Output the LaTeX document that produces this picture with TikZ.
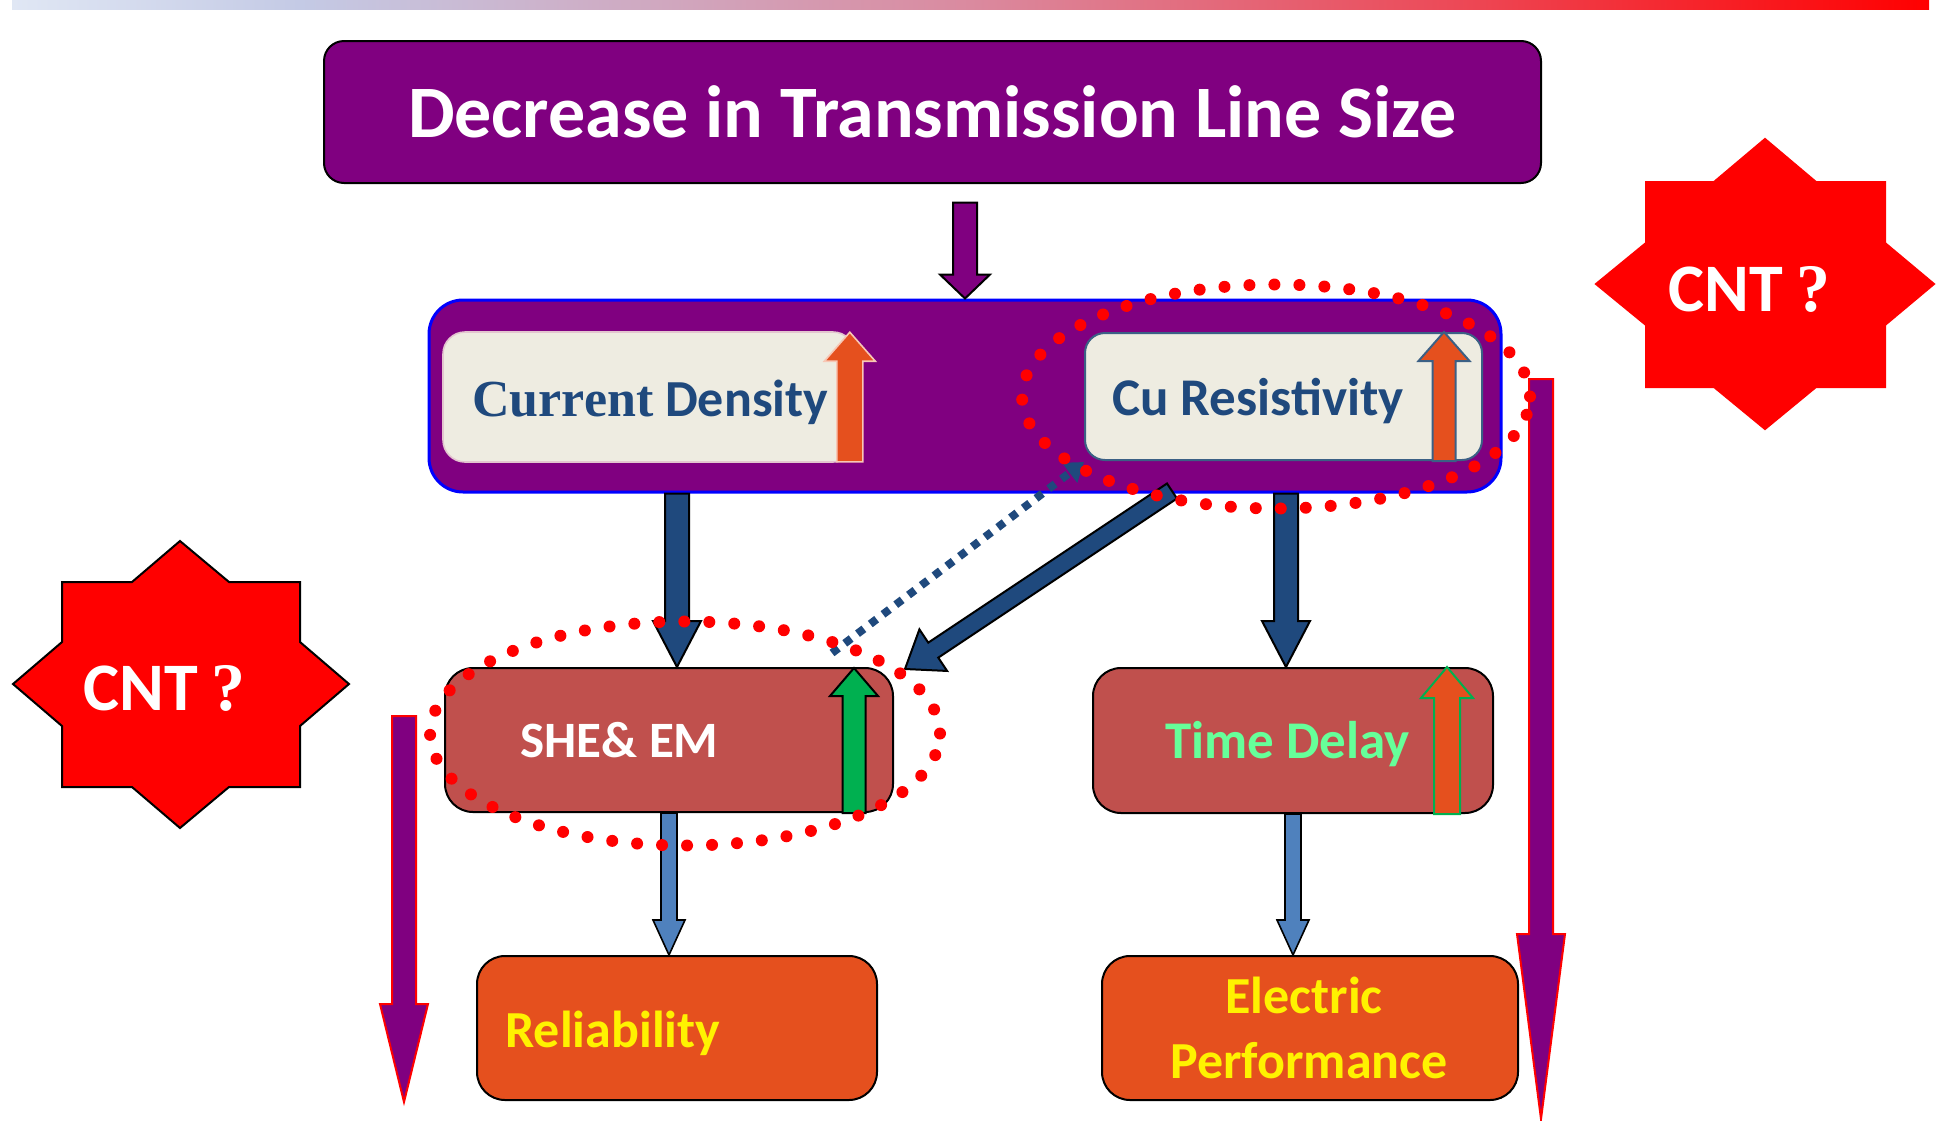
\documentclass[tikz,border=0pt]{standalone}
\usepackage{fontspec}
\setmainfont{Carlito}
\newfontfamily\serifb{Liberation Serif}
\usetikzlibrary{calc,arrows.meta}
\definecolor{pp}{HTML}{800080}
\definecolor{beige}{HTML}{EEECE1}
\definecolor{dblue}{HTML}{1F497D}
\definecolor{orng}{HTML}{E5501E}
\definecolor{brick}{HTML}{C0504D}
\definecolor{grn}{HTML}{00B050}
\definecolor{lblue}{HTML}{4F81BD}
\definecolor{tgreen}{HTML}{66FF99}
\definecolor{slate}{HTML}{3B6085}
\definecolor{pinkline}{HTML}{E3C5CF}
\definecolor{lightor}{HTML}{F7C7B5}
\definecolor{barA}{HTML}{E0E7F4}
\definecolor{barB}{HTML}{C4CAE5}
\definecolor{barC}{HTML}{DA8A9F}
\definecolor{barD}{HTML}{EC4A58}
\pgfdeclarehorizontalshading{barshade}{100bp}{color(0bp)=(barA); color(25bp)=(barA); color(32.5bp)=(barB); color(50bp)=(barC); color(62.5bp)=(barD); color(75bp)=(red); color(100bp)=(red)}
\newcommand{\blkarr}[6]{%
  \coordinate (ba-s) at (#2);
  \coordinate (ba-t) at (#3);
  \coordinate (ba-h) at ($(ba-t)!#6!(ba-s)$);
  \path[#1] ($(ba-s)!#4!-90:(ba-t)$) -- ($(ba-h)!#4!-90:(ba-t)$) -- ($(ba-h)!#5!-90:(ba-t)$) -- (ba-t) -- ($(ba-h)!#5!90:(ba-t)$) -- ($(ba-h)!#4!90:(ba-t)$) -- ($(ba-s)!#4!90:(ba-t)$) -- cycle;
}
\tikzset{
  rbox/.style={inner sep=0pt, line width=1pt},
  txt/.style={inner sep=0pt, anchor=base west},
  parr/.style={fill=pp, draw=black, line width=1pt},
  darr/.style={fill=dblue, draw=black, line width=1pt},
  larr/.style={fill=lblue, draw=black, line width=0.8pt},
  sarr/.style={fill=pp, draw=red, line width=1pt},
  starshape/.style={fill=red, line width=1pt},
  reddots/.style={draw=red, line width=6pt, dash pattern=on 0pt off 12.5pt, line cap=round},
  dotline/.style={draw=dblue, line width=4pt, dash pattern=on 4pt off 4pt, -{Triangle[length=9pt,width=12pt]}},
}
\begin{document}
\begin{tikzpicture}[x=0.5pt,y=-0.5pt]
\useasboundingbox (0,0) rectangle (1939,1120);
\shade[shading=barshade] (12,0) rectangle (1929,9);

% top box
\node[rbox, fill=pp, draw=black, rounded corners=10pt, minimum width=608.5pt, minimum height=71pt,
      text=white, font=\fontsize{37pt}{40pt}\selectfont\bfseries] (top) at (932.5,112) {Decrease in Transmission Line Size};

% mid purple box
\node[rbox, fill=pp, draw=blue, line width=1.5pt, rounded corners=17pt, minimum width=536pt, minimum height=96pt] (mid) at (965,396) {};

% arrow top -> mid
\coordinate (a0s) at ($(mid.north)+(0,-96)$);
\blkarr{parr}{a0s}{mid.north}{6pt}{12.5pt}{12pt}

% current density
\node[rbox, fill=beige, draw=pinkline, line width=0.8pt, rounded corners=11pt, minimum width=206pt, minimum height=65pt] (cd) at (649,397) {};
\coordinate (cda) at ($(cd.south east)+(-6,-1)$);
\coordinate (cdb) at ($(cd.north east)+(-6,1)$);
\blkarr{fill=orng, draw=lightor, line width=0.8pt}{cda}{cdb}{6.5pt}{12.75pt}{14.5pt}
\node[txt, text=dblue, font=\fontsize{26pt}{30pt}\selectfont\bfseries] (cdtxt) at (472,416) {{\serifb\bfseries Current} Density};

% cu resistivity
\node[rbox, fill=beige, draw=slate, line width=1pt, rounded corners=10pt, minimum width=198.5pt, minimum height=63.5pt] (cu) at (1283.5,396.5) {};
\coordinate (cua) at ($(cu.south east)+(-39,0)$);
\coordinate (cub) at ($(cu.north east)+(-39,0)$);
\blkarr{fill=orng, draw=slate, line width=1pt}{cua}{cub}{5.75pt}{12.75pt}{14.5pt}
\node[txt, text=dblue, font=\fontsize{26.5pt}{30pt}\selectfont\bfseries] (cutxt) at (1112,415) {Cu Resistivity};

% SHE & EM
\node[rbox, fill=brick, draw=black, rounded corners=14pt, minimum width=224pt, minimum height=72pt] (she) at (669,740) {};
\coordinate (shea) at ($(she.south east)+(-40,0)$);
\coordinate (sheb) at ($(she.north east)+(-40,1)$);
\blkarr{fill=grn, draw=black, line width=1pt}{shea}{sheb}{5.75pt}{12pt}{14pt}
\node[txt, text=white, font=\fontsize{25.5pt}{30pt}\selectfont\bfseries] (shetxt) at (520,757) {SHE\& EM};

% Time Delay
\node[rbox, fill=brick, draw=black, rounded corners=14pt, minimum width=200pt, minimum height=72.5pt] (td) at (1293,740.5) {};
\coordinate (tda) at ($(td.south east)+(-47,0)$);
\coordinate (tdb) at ($(td.north east)+(-47,0)$);
\blkarr{fill=orng, draw=grn, line width=1pt}{tda}{tdb}{6.5pt}{13pt}{15.5pt}
\node[txt, text=tgreen, font=\fontsize{26.5pt}{30pt}\selectfont\bfseries] (tdtxt) at (1165,758) {Time Delay};

% arrows mid -> she, mid -> td
\coordinate (b1s) at ($(she.north|-mid.south)+(8,0)$);
\coordinate (b1t) at ($(she.north)+(8,0)$);
\blkarr{darr}{b1s}{b1t}{6pt}{12pt}{23pt}
\coordinate (b2s) at ($(td.north|-mid.south)+(-7,0)$);
\coordinate (b2t) at ($(td.north)+(-7,0)$);
\blkarr{darr}{b2s}{b2t}{6pt}{12pt}{23pt}

% Reliability and Electric Performance
\node[rbox, fill=orng, draw=black, rounded corners=14pt, minimum width=200pt, minimum height=72pt] (rel) at (677,1028) {};
\node[txt, text=yellow, font=\fontsize{26pt}{30pt}\selectfont\bfseries] (reltxt) at (505,1047) {Reliability};
\node[rbox, fill=orng, draw=black, rounded corners=14pt, minimum width=208pt, minimum height=72pt] (ep) at (1310,1028) {};
\node[inner sep=0pt, anchor=base, text=yellow, font=\fontsize{26pt}{30pt}\selectfont\bfseries] (eptxt1) at (1304,1013) {Electric};
\node[inner sep=0pt, anchor=base, text=yellow, font=\fontsize{26pt}{30pt}\selectfont\bfseries] (eptxt2) at (1309,1078) {Performance};

% light blue arrows
\coordinate (c1t) at (she.south|-rel.north);
\blkarr{larr}{she.south}{c1t}{4pt}{8pt}{17.5pt}
\coordinate (c2t) at (td.south|-ep.north);
\blkarr{larr}{td.south}{c2t}{4pt}{8pt}{17.5pt}

% diagonal arrow cu -> she
\coordinate (dgs) at (1172,491);
\coordinate (dgt) at (905,669);
\blkarr{darr}{dgs}{dgt}{4.5pt}{12.5pt}{17pt}

% dotted line she -> cu
\coordinate (dls) at (832,653);
\coordinate (dlt) at (1084,462);
\draw[dotline] (dls) -- (dlt);

% side purple arrows
\coordinate (lps) at (404,716);
\coordinate (lpt) at (404,1102);
\blkarr{sarr}{lps}{lpt}{6pt}{12pt}{49pt}
\coordinate (rps) at (1541,379);
\coordinate (rpt) at (1541,1119);
\blkarr{sarr}{rps}{rpt}{6pt}{12pt}{92.5pt}

% stars
\draw[starshape, draw=black] (180,541) -- (229,582) -- (300,582) -- (300,642) -- (349,684) -- (300,726) -- (300,787) -- (229,787) -- (180,828) -- (132,787) -- (62,787) -- (62,726) -- (13,684) -- (62,642) -- (62,582) -- (132,582) -- cycle;
\node[txt, text=white, font=\fontsize{34pt}{38pt}\selectfont\bfseries] (cnt1) at (83,710) {CNT\hspace{0.2em}{\serifb\bfseries ?}};
\draw[starshape, draw=red] (1765,139) -- (1816,182) -- (1885,182) -- (1885,243) -- (1934,284) -- (1885,325) -- (1885,387) -- (1816,387) -- (1765,429) -- (1714,387) -- (1646,387) -- (1646,325) -- (1596,284) -- (1646,243) -- (1646,182) -- (1714,182) -- cycle;
\node[txt, text=white, font=\fontsize{34pt}{38pt}\selectfont\bfseries] (cnt2) at (1668,311) {CNT\hspace{0.2em}{\serifb\bfseries ?}};

% red dotted ellipses
\draw[reddots] (1276,396.5) ellipse [x radius=127pt, y radius=56pt];
\draw[reddots] (685,733.5) ellipse [x radius=127.5pt, y radius=56pt];
\end{tikzpicture}
\end{document}
